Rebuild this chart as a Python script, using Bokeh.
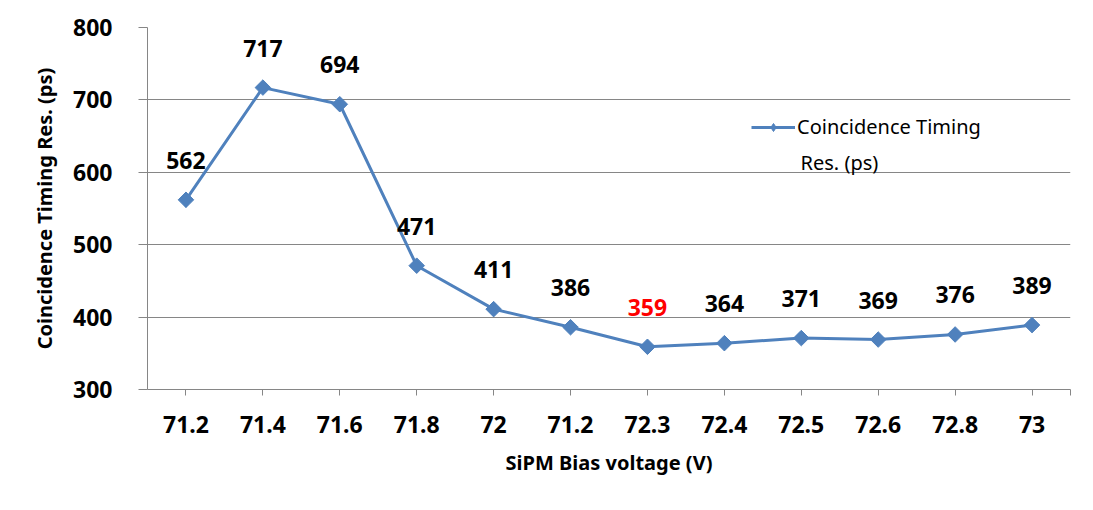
import math
from bokeh.plotting import figure
from bokeh.models import ColumnDataSource, Range1d, FixedTicker, Legend, LegendItem, LabelSet, Label
from bokeh.embed import file_html
from bokeh.resources import INLINE
from bokeh.core.properties import value

categories = ["71.2", "71.4", "71.6", "71.8", "72", "71.2", "72.3", "72.4", "72.5", "72.6", "72.8", "73"]
timing_res = [562, 717, 694, 471, 411, 386, 359, 364, 371, 369, 376, 389]
label_colors = ["black"] * 6 + ["#FF0000"] + ["black"] * 5
y_ticks = [300, 400, 500, 600, 700, 800]

xs = list(range(len(categories)))
src = ColumnDataSource(dict(x=xs, y=timing_res, lab=[str(v) for v in timing_res], col=label_colors))

FONT = "Noto Sans"
BLUE = "#4F81BD"
p = figure(width=1093, height=510, output_backend="svg", toolbar_location=None,
           x_range=Range1d(-0.5, len(categories) - 0.5), y_range=Range1d(300, 800),
           min_border_left=147, min_border_right=23, min_border_top=27, min_border_bottom=121)
p.outline_line_color = None
p.background_fill_color = "white"
p.border_fill_color = "white"

# legend proxy marker (hidden beneath the first real marker)
proxy_src = ColumnDataSource(dict(x=xs[:1], y=timing_res[:1]))
leg_mark = p.scatter("x", "y", source=proxy_src, marker="diamond", size=15, fill_color=BLUE, line_color=BLUE)

line = p.line("x", "y", source=src, line_color=BLUE, line_width=3)
p.scatter("x", "y", source=src, marker="square", angle=math.pi / 4, size=11,
          fill_color=BLUE, line_color=BLUE)

labels = LabelSet(x="x", y="y", text="lab", source=src, text_color="col", text_align="center",
                  text_baseline="bottom", y_offset=31, text_font=value(FONT), text_font_style="bold",
                  text_font_size="23px")
p.add_layout(labels)

# x axis
p.xaxis.ticker = FixedTicker(ticks=xs + [len(categories) - 0.5])
p.xaxis.major_label_overrides = {i: c for i, c in enumerate(categories)}
p.xaxis.major_label_overrides[len(categories) - 0.5] = ""
p.xaxis.major_label_text_font = FONT
p.xaxis.major_label_text_font_style = "bold"
p.xaxis.major_label_text_font_size = "23px"
p.xaxis.major_label_text_color = "black"
p.xaxis.major_label_standoff = 20
p.xaxis.major_tick_in = 0
p.xaxis.major_tick_out = 6
p.xaxis.minor_tick_line_color = None
p.xaxis.axis_line_color = "#868686"
p.xaxis.major_tick_line_color = "#868686"
p.xaxis.axis_label = "SiPM Bias voltage (V)"
p.xaxis.axis_label_text_font = FONT
p.xaxis.axis_label_text_font_style = "bold"
p.xaxis.axis_label_text_font_size = "20px"
p.xaxis.axis_label_text_color = "black"
p.xaxis.axis_label_standoff = 13

# y axis
p.yaxis.ticker = FixedTicker(ticks=y_ticks)
p.yaxis.major_label_text_font = FONT
p.yaxis.major_label_text_font_style = "bold"
p.yaxis.major_label_text_font_size = "23px"
p.yaxis.major_label_text_color = "black"
p.yaxis.major_label_standoff = 26
p.yaxis.major_tick_in = 0
p.yaxis.major_tick_out = 9
p.yaxis.minor_tick_line_color = None
p.yaxis.axis_line_color = "#868686"
p.yaxis.major_tick_line_color = "#868686"
p.yaxis.axis_label = "Coincidence Timing Res. (ps)"
p.yaxis.axis_label_text_font = FONT
p.yaxis.axis_label_text_font_style = "bold"
p.yaxis.axis_label_text_font_size = "20px"
p.yaxis.axis_label_text_color = "black"
p.yaxis.axis_label_standoff = 12

p.xgrid.grid_line_color = None
p.ygrid.grid_line_color = "#868686"
p.ygrid.grid_line_width = 1

legend = Legend(items=[LegendItem(label="Coincidence Timing", renderers=[line, leg_mark])],
                location=(604, 249), border_line_color=None, background_fill_alpha=0,
                label_text_font=FONT, label_text_font_size="20px", glyph_width=44,
                label_standoff=2, padding=4, label_text_color="black")
p.add_layout(legend)
p.add_layout(Label(x=7.99, y=613, text="Res. (ps)",
                   text_font=FONT, text_font_size="20px", text_color="black",
                   text_baseline="middle"))

open("out.html", "w").write(file_html(p, INLINE))
